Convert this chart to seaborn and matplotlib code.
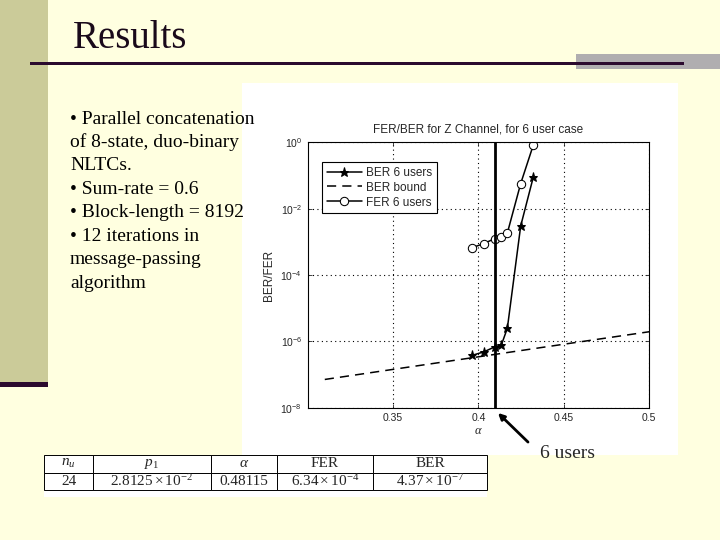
import numpy as np
import pandas as pd
import matplotlib
matplotlib.use('Agg')
import matplotlib.pyplot as plt
import seaborn as sns
from matplotlib.patches import Rectangle

# data
alpha = [0.3964, 0.4030, 0.4095, 0.4134, 0.4169, 0.4247, 0.4321]
ber_6users = [3.8e-7, 4.8e-7, 6.8e-7, 7.8e-7, 2.5e-6, 3.0e-3, 9.0e-2]
fer_6users = [6.7e-4, 8.8e-4, 1.25e-3, 1.37e-3, 1.85e-3, 5.7e-2, 8.3e-1]
bound_alpha = [0.31, 0.35, 0.40, 0.45, 0.50]
ber_bound = [7.1e-8, 1.43e-7, 3.42e-7, 8.2e-7, 1.95e-6]
alpha_6users = 0.4095

table_cols = ['$n_u$', '$p_1$', r'$\alpha$', 'FER', 'BER']
table_row = ['24', r'$\mathregular{2.8125\times10^{-2}}$', '0.48115',
             r'$\mathregular{6.34\times10^{-4}}$', r'$\mathregular{4.37\times10^{-7}}$']

bullets = ['• Parallel concatenation', 'of 8-state, duo-binary', 'NLTCs.',
           '• Sum-rate = 0.6', '• Block-length = 8192', '• 12 iterations in',
           'message-passing', 'algorithm']

sns.set_style('ticks')
plt.rcParams['font.family'] = ['Liberation Sans', 'DejaVu Sans']
plt.rcParams['mathtext.fontset'] = 'custom'
plt.rcParams['mathtext.rm'] = 'Liberation Serif'
plt.rcParams['mathtext.it'] = 'Liberation Serif:italic'

W, H = 720, 540
bg = '#FFFFE0'
fig = plt.figure(figsize=(7.2, 5.4), dpi=100, facecolor=bg)


def box(x0, y0, x1, y1):
    # pixel box (top-left origin) -> figure fraction [l, b, w, h]
    return [x0 / W, 1 - y1 / H, (x1 - x0) / W, (y1 - y0) / H]


def rect(x0, y0, x1, y1, color):
    l, b, w, h = box(x0, y0, x1, y1)
    fig.patches.append(Rectangle((l, b), w, h, transform=fig.transFigure,
                                 facecolor=color, edgecolor='none', zorder=-5))


# slide decorations
rect(0, 0, 48, 382, '#CBCB99')
rect(0, 382, 48, 387, '#2B0A2E')
rect(576, 54, 720, 69, '#B0AEB0')
rect(30, 62, 684, 65, '#2B0A2E')
rect(242, 83, 678, 455, 'white')
rect(44, 455, 487, 497, 'white')

fig.text(73 / W, 1 - 38 / H, 'Results', family='Liberation Serif',
         fontsize=28, color='#1A0A1A', va='center', ha='left')

for i, line in enumerate(bullets):
    fig.text(70 / W, 1 - (119 + i * 23.5) / H, line, family='Liberation Serif',
             fontsize=14, color='black', va='center', ha='left')

# chart
ax = fig.add_axes(box(307.7, 142.3, 649.3, 407.7))
ax.set_facecolor('white')
df = pd.DataFrame({'alpha': alpha, 'ber': ber_6users, 'fer': fer_6users})
dfb = pd.DataFrame({'alpha': bound_alpha, 'ber': ber_bound})

sns.lineplot(data=df, x='alpha', y='ber', ax=ax, color='black', lw=1.1,
             marker='*', markersize=6.5, markeredgecolor='black',
             markerfacecolor='black', label='BER 6 users')
sns.lineplot(data=dfb, x='alpha', y='ber', ax=ax, color='black', lw=1.1,
             label='BER bound')
ax.lines[-1].set_dashes((6, 4))
sns.lineplot(data=df, x='alpha', y='fer', ax=ax, color='black', lw=1.1,
             marker='o', markersize=6, markerfacecolor='white',
             markeredgecolor='black', label='FER 6 users')
ax.axvline(alpha_6users, color='black', lw=2)

ax.set_yscale('log')
ax.set_xlim(0.3, 0.5)
ax.set_ylim(1e-8, 1)
ax.set_xticks([0.35, 0.4, 0.45, 0.5])
ax.set_xticklabels(['0.35', '0.4', '0.45', '0.5'])
yt = [1e-8, 1e-6, 1e-4, 1e-2, 1]
ax.set_yticks(yt)
ax.set_yticklabels([r'$\mathregular{10^{%d}}$' % int(np.log10(v)) for v in yt])
ax.yaxis.set_minor_locator(matplotlib.ticker.NullLocator())
ax.tick_params(direction='in', length=3, width=0.6, labelsize=7.5,
               top=True, right=True, pad=4)
ax.grid(True, which='major', color='black', ls=(0, (1, 3)), lw=0.8)
for s in ax.spines.values():
    s.set_linewidth(0.8)
    s.set_color('black')
ax.set_title('FER/BER for Z Channel, for 6 user case', fontsize=8.5, pad=7)
ax.set_xlabel(r'$\alpha$', fontsize=9, labelpad=1)
ax.set_ylabel('BER/FER', fontsize=8.5, labelpad=4)

leg = ax.legend(loc='upper left', bbox_to_anchor=(0.042, 0.926),
                borderaxespad=0, fontsize=8.5, frameon=True, fancybox=False,
                edgecolor='black', framealpha=1, handlelength=3.0,
                handletextpad=0.3, labelspacing=0.25, borderpad=0.4)
leg.get_frame().set_linewidth(0.8)

# arrow + label
fig.add_artist(matplotlib.patches.FancyArrowPatch(
    (530 / W, 1 - 444 / H), (496 / W, 1 - 411 / H), transform=fig.transFigure,
    arrowstyle='-|>', mutation_scale=9, color='black', lw=2))
fig.text(540 / W, 1 - 454 / H, '6 users', family='Liberation Serif',
         fontsize=14, va='center', ha='left')

# table
tax = fig.add_axes(box(44, 455, 487, 490))
tax.axis('off')
tbl = tax.table(cellText=[table_row], colLabels=table_cols,
                colWidths=[49, 118, 66, 96, 114], bbox=[0, 0, 1, 1],
                cellLoc='center')
tbl.auto_set_font_size(False)
for (r, c), cell in tbl.get_celld().items():
    cell.set_linewidth(0.7)
    cell.get_text().set_fontsize(11)
    cell.get_text().set_family('Liberation Serif')

fig.savefig('out.png', dpi=100, facecolor=bg)
